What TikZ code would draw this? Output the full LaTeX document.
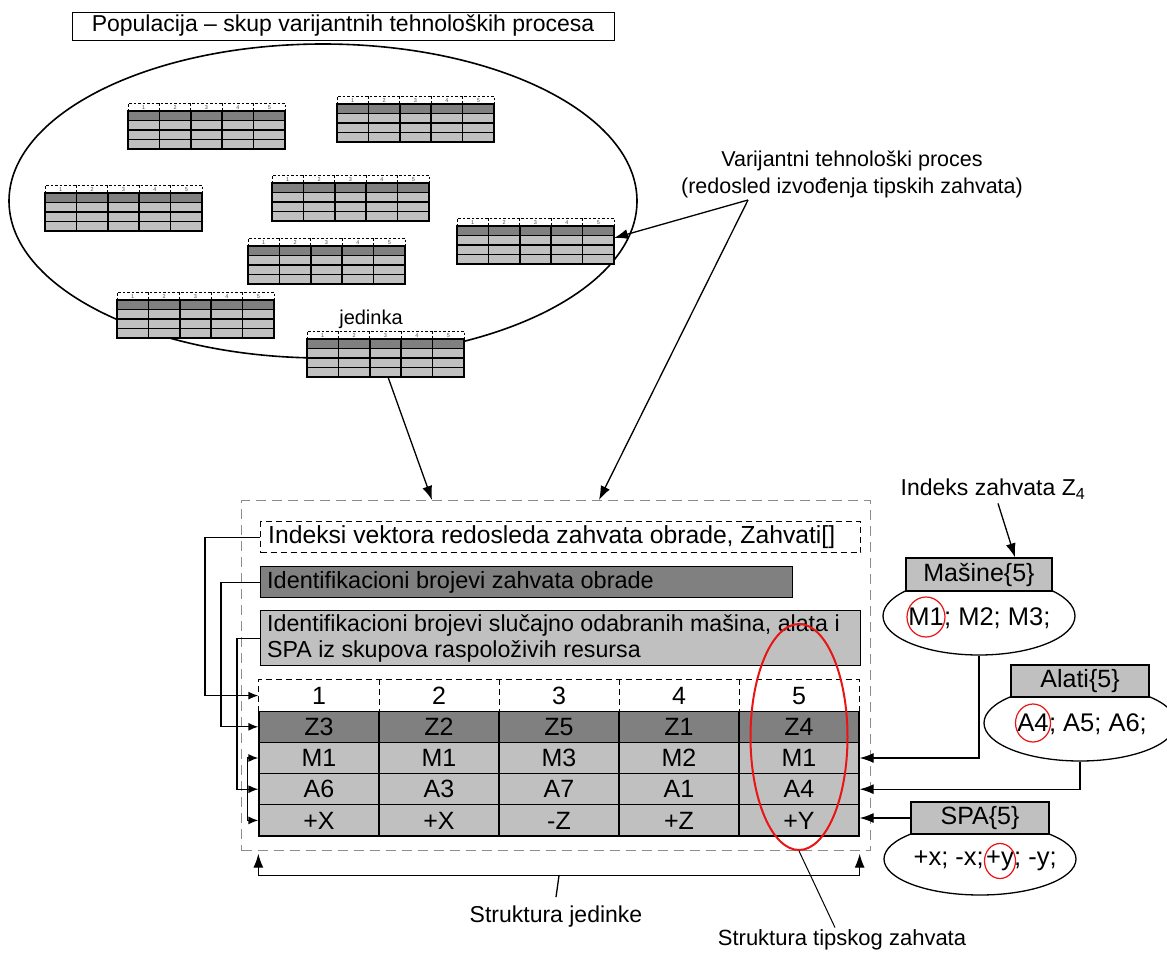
\documentclass[tikz,border=0pt]{standalone}
\usepackage{fontspec}
\setmainfont{Liberation Sans}
\usetikzlibrary{arrows.meta,calc,shapes.geometric}
\definecolor{darkfill}{RGB}{128,128,128}
\definecolor{lightfill}{RGB}{192,192,192}
\definecolor{framegray}{RGB}{140,140,140}
\definecolor{markred}{RGB}{235,20,20}

\tikzset{
  big/.style={font=\fontsize{25}{28}\selectfont},
  restxt/.style={font=\fontsize{25.5}{28}\selectfont, inner sep=0},
  lbl/.style={font=\fontsize{23}{27}\selectfont, inner sep=0},
  cell/.style={draw, line width=1.3pt, minimum width=120pt, minimum height=31.2pt, inner sep=0, big},
  resbox/.style={draw, fill=lightfill, line width=1.3pt, inner sep=0, font=\fontsize{25}{28}\selectfont},
  resell/.style={draw, ellipse, fill=white, line width=1.3pt, inner sep=0},
  ring/.style={draw=markred, ellipse, line width=1.2pt, inner sep=0},
  arr/.style={-{Latex[length=14pt,width=10pt]}, line width=1.3pt},
  sarr/.style={-{Latex[length=10pt,width=8pt]}, line width=1.3pt},
  hdash/.style={line width=1.3pt, dash pattern=on 6pt off 4pt},
  minitab/.pic={
    \fill[lightfill] (0,17.5) rectangle (157,46);
    \fill[darkfill] (0,8) rectangle (157,17.5);
    \fill[white] (0,0) rectangle (157,8);
    \draw[line width=1pt, dash pattern=on 2.5pt off 2pt] (0,8) -- (0,0) -- (157,0) -- (157,8);
    \foreach \k in {1,...,4} {\draw[line width=1pt, dash pattern=on 2.5pt off 2pt] (31.4*\k,0) -- (31.4*\k,8);}
    \draw[line width=1.5pt] (0,8) rectangle (157,46);
    \foreach \yy in {17.5,27,36.5} {\draw[line width=1.5pt] (0,\yy) -- (157,\yy);}
    \foreach \k in {1,...,4} {\draw[line width=1.5pt] (31.4*\k,8) -- (31.4*\k,46);}
    \foreach \k in {1,...,5} {\node[font=\fontsize{5.5}{6}\selectfont, inner sep=0, text=black!70] at (31.4*\k-15.7,4.3) {\k};}
    \coordinate (-s) at (81,46);
    \coordinate (-e) at (157,20);
  }
}

\begin{document}
\begin{tikzpicture}[x=1pt,y=-1pt]
\useasboundingbox (0,0) rectangle (1167,953);

% population of process variants
\node[draw, lbl, line width=1pt, minimum width=542pt, minimum height=28pt] (title) at (343,26) {Populacija – skup varijantnih tehnoloških procesa};
\node[draw, ellipse, line width=1.6pt, minimum width=628pt, minimum height=314pt, inner sep=0] (pop) at (323,201) {};

\pic (t1) at (128,103) {minitab};
\pic (t2) at (337,96) {minitab};
\pic (t3) at (45,185) {minitab};
\pic (t4) at (272,175) {minitab};
\pic (t5) at (457,218) {minitab};
\pic (t6) at (248,238) {minitab};
\pic (t7) at (117,292) {minitab};
\pic (t8) at (307,331) {minitab};
\node[lbl, font=\fontsize{20}{24}\selectfont] (jl) at (371,319) {jedinka};

\node[lbl, align=center, font=\fontsize{21.5}{27}\selectfont] (vlbl) at (852,174) {Varijantni tehnološki proces\\(redosled izvođenja tipskih zahvata)};
\coordinate (apex) at (748,200);

% structure of one individual
\node[draw=framegray, line width=1.3pt, dash pattern=on 10pt off 6pt, anchor=north west, minimum width=629pt, minimum height=350pt, inner sep=0] (frame) at (241,500) {};
\coordinate (inA) at ($(frame.north west)+(191,0)$);
\coordinate (inB) at ($(frame.north west)+(358,0)$);

\draw[arr] (t8-s) -- (inA);
\draw[arr] (apex) -- (t5-e);
\draw[arr] (apex) -- (inB);

\node[draw, hdash, anchor=north west, minimum width=600pt, minimum height=31pt, inner sep=0] (boxA) at (260,521) {};
\node[font=\fontsize{24.7}{27}\selectfont, inner sep=0, anchor=west] (txA) at ($(boxA.west)+(8,0)$) {Indeksi vektora redosleda zahvata obrade, Zahvati[]};
\node[draw, fill=darkfill, line width=1.3pt, anchor=north west, minimum width=532pt, minimum height=31pt, inner sep=0] (boxB) at (260,566) {};
\node[font=\fontsize{23.5}{27}\selectfont, inner sep=0, anchor=west] (txB) at ($(boxB.west)+(7,0)$) {Identifikacioni brojevi zahvata obrade};
\node[draw, fill=lightfill, line width=1.3pt, anchor=north west, minimum width=600pt, minimum height=55pt, inner sep=0] (boxC) at (260,610) {};
\node[font=\fontsize{23.2}{26}\selectfont, inner sep=0, anchor=west, align=left] (txC) at ($(boxC.west)+(7,0)$) {Identifikacioni brojevi slučajno odabranih mašina, alata i\\SPA iz skupova raspoloživih resursa};

% chromosome table
\foreach \k in {1,...,5} {\node[cell, draw=none] (h\k) at (199+120*\k,695.6) {\k};}
\draw[hdash] (h1.south west) -- (h1.north west) -- (h5.north east) -- (h5.south east);
\foreach \k in {1,...,4} {\draw[hdash] (h\k.north east) -- (h\k.south east);}
\foreach \t [count=\k] in {Z3,Z2,Z5,Z1,Z4} {\node[cell, fill=darkfill] (z\k) at (199+120*\k,726.8) {\t};}
\foreach \t [count=\k] in {M1,M1,M3,M2,M1} {\node[cell, fill=lightfill] (m\k) at (199+120*\k,758) {\t};}
\foreach \t [count=\k] in {A6,A3,A7,A1,A4} {\node[cell, fill=lightfill] (a\k) at (199+120*\k,789.2) {\t};}
\foreach \t [count=\k] in {+X,+X,-Z,+Z,+Y} {\node[cell, fill=lightfill] (s\k) at (199+120*\k,820.4) {\t};}

\node[draw=markred, ellipse, line width=2pt, minimum width=97pt, minimum height=226pt, inner sep=0] (sel) at (799,737) {};

\draw[sarr] (boxA.west) -- ++(-55,0) |- (h1.west);
\draw[sarr] (boxB.west) -- ++(-39,0) |- (z1.west);
\draw[sarr] (boxC.west) -- ++(-23,0) |- (a1.west);
\draw[{Latex[length=10pt,width=8pt]}-{Latex[length=10pt,width=8pt]}, line width=1.3pt] (m1.west) -- ++(-11,0) |- (s1.west);

% resource sets
\node[resell, minimum width=192pt, minimum height=78pt] (masE) at (979,616) {};
\node[resbox, minimum width=146pt, minimum height=33pt] (mas) at (979,574.5) {Mašine\{5\}};
\node[restxt] (mtM) at (926,617) {M1};
\node[restxt, anchor=base west] at (mtM.base east) {; M2; M3;};
\node[ring, minimum width=38pt, minimum height=40pt] at (mtM) {};

\node[resell, minimum width=192pt, minimum height=76pt] (alaE) at (1080,723) {};
\node[resbox, minimum width=138pt, minimum height=32pt] (ala) at (1080,681) {Alati\{5\}};
\node[restxt] (atA) at (1033,723) {A4};
\node[restxt, anchor=base west] at (atA.base east) {; A5; A6;};
\node[ring, minimum width=35pt, minimum height=38pt] at (atA) {};

\node[resell, minimum width=192pt, minimum height=72pt] (spaE) at (980,859) {};
\node[resbox, minimum width=138pt, minimum height=32pt] (spa) at (980,818) {SPA\{5\}};
\node[restxt] (spY) at (1000,861) {+y};
\node[restxt, anchor=base east] at ($(spY.base west)+(-2,0)$) {+x; -x;\ };
\node[restxt, anchor=base west] at (spY.base east) {; -y;};
\node[ring, minimum width=31pt, minimum height=35pt] at (spY) {};

\draw[arr] (masE.south) |- (m5.east);
\draw[arr] (alaE.south) |- (a5.east);
\draw[arr] (spa.west) -- (s5.east |- spa.west);

\node[lbl] (idx) at (993,489) {Indeks zahvata Z\textsubscript{4}};
\draw[arr] ($(idx.south)+(5,4)$) -- ($(mas.north)+(36,0)$);

% bracket under the individual
\coordinate (bkL) at ($(s1.south west)+(0,17)$);
\coordinate (bkR) at ($(s5.south east)+(0,17)$);
\draw[{Latex[length=14pt,width=10pt]}-{Latex[length=14pt,width=10pt]}, line width=1.3pt] (bkL) -- ++(0,22) -| (bkR);
\node[lbl] (sj) at (556,917) {Struktura jedinke};
\draw[line width=1.3pt] ($(bkL)!0.5!(bkR)+(0,22)$) -- ($(sj.north)+(0,-9)$);

\node[lbl, font=\fontsize{22}{26}\selectfont] (tz) at (842,940) {Struktura tipskog zahvata};
\draw[line width=1pt] (sel.south) -- ($(tz.north)+(-7,-2)$);
\end{tikzpicture}
\end{document}
